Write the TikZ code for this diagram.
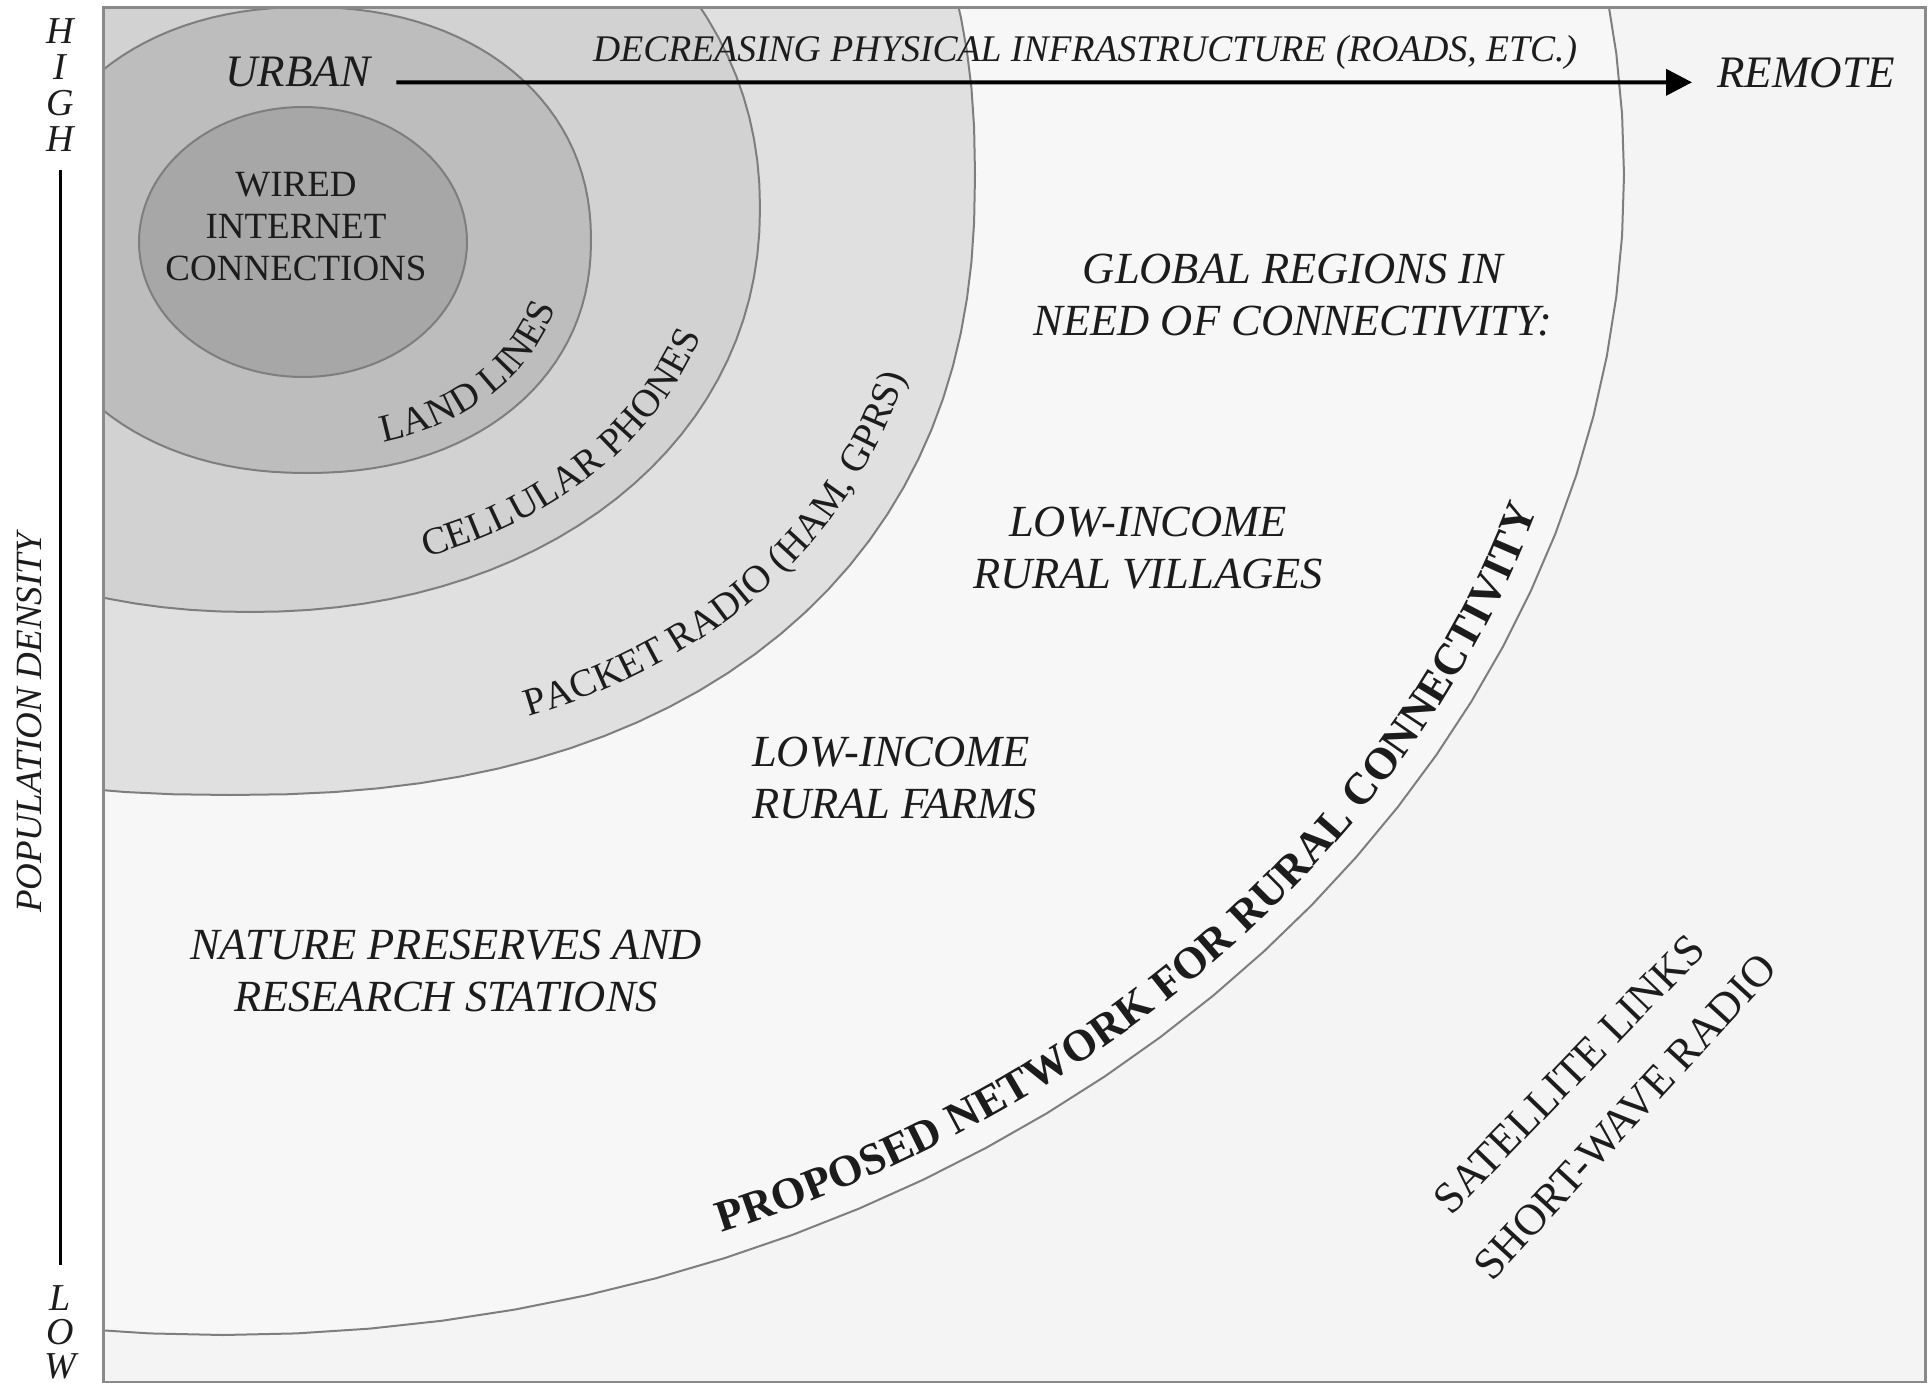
\documentclass[tikz,border=0pt]{standalone}
\usepackage{fontspec}
\setmainfont{Liberation Serif}
\usetikzlibrary{arrows.meta,decorations.text}
\definecolor{cbg}{HTML}{F4F4F4}
\definecolor{couter}{HTML}{F7F7F7}
\definecolor{cpacket}{HTML}{E0E0E0}
\definecolor{ccell}{HTML}{D2D2D2}
\definecolor{cland}{HTML}{BDBDBD}
\definecolor{cwired}{HTML}{A7A7A7}
\definecolor{cline}{HTML}{7E7E7E}
\definecolor{cframe}{HTML}{8A8A8A}
\definecolor{ctext}{HTML}{1C1C1C}
\newcommand\fsz[2]{\fontsize{#1}{#2}\selectfont}
\tikzset{
  declare function={spow(\xa,\xb)=\xa*(abs(\xa)+0.0001)^(\xb-1);},
  spath/.style n args={7}{insert path={plot[domain=#6:#7,samples=121,variable=\t]
     ({#1+#3*spow(cos(\t),2/#5)},{#2+#4*spow(sin(\t),2/#5)})}},
  region/.style={draw=cline, line width=2pt},
  lbl/.style={inner sep=0pt, text=ctext},
  ital/.style={lbl, font=\fsz{44.5}{52}\itshape, align=center},
  ringtext/.style={decorate, decoration={text along path, text align=center,
     text={|\color{ctext}\fsz{39}{39}|#1}}},
}
\begin{document}
\begin{tikzpicture}[x=1pt,y=-1pt]
\useasboundingbox (0,0) rectangle (1930,1383);
\fill[white] (0,0) rectangle (1930,1383);

% regions
\begin{scope}
  \clip (103,8) rectangle (1925,1382);
  \fill[cbg] (103,8) rectangle (1925,1382);
  \filldraw[region, fill=couter, spath={223}{175}{1401}{1160}{2}{0}{360}] -- cycle;
  \filldraw[region, fill=cpacket, spath={230}{175}{745}{620}{2.3}{0}{360}] -- cycle;
  \filldraw[region, fill=ccell, spath={250}{208}{510}{404}{2.1}{0}{360}] -- cycle;
  \filldraw[region, fill=cland, spath={307}{240}{284}{233}{2.15}{0}{360}] -- cycle;
  \filldraw[region, fill=cwired, spath={303}{242}{164}{135}{2}{0}{360}] -- cycle;
\end{scope}
\draw[cframe, line width=3pt] (103,8) rectangle (1925,1382);

% left axis
\node[lbl, font=\fsz{38}{36}\itshape, align=center, anchor=north] (high) at (60,18) {H\\I\\G\\H};
\node[lbl, font=\fsz{38}{34}\itshape, align=center, anchor=north] (low) at (60,1285) {L\\O\\W};
\draw[black, line width=3pt, shorten <=19pt, shorten >=20pt] (high.south) -- (low.north);
\node[lbl, rotate=90, font=\fsz{37}{37}\itshape] (popd) at (29.5,723) {POPULATION DENSITY};

% top axis
\node[lbl, anchor=base west, font=\fsz{45}{45}\itshape] (urban) at (225,87) {URBAN};
\node[lbl, anchor=base west, font=\fsz{45}{45}\itshape] (remote) at (1717,88) {REMOTE};
\node[lbl, anchor=base west, font=\fsz{37.6}{38}\itshape] (decr) at (593,62) {DECREASING PHYSICAL INFRASTRUCTURE (ROADS, ETC.)};
\draw[black, line width=4pt, -{Triangle[length=26pt,width=26pt]}, shorten <=26pt, shorten >=25pt]
  ([yshift=-10pt]urban.east) -- ([yshift=-9pt]remote.west);

% inner labels
\node[lbl, font=\fsz{37}{42}, align=center, anchor=north] (wired) at (296,172) {WIRED\\INTERNET\\CONNECTIONS};
\path[ringtext={LAND LINES}, spath={307}{240}{260}{209}{2.15}{82}{8}];
\path[ringtext={CELLULAR PHONES}, spath={250}{208}{476}{372}{2.1}{80}{6}];
\path[ringtext={PACKET RADIO (HAM, GPRS)}, spath={230}{175}{703}{578}{2.3}{79}{5}];
\path[decorate, decoration={text along path, text align=center,
     text={|\color{ctext}\fsz{44.5}{44.5}\bfseries|PROPOSED NETWORK FOR RURAL CONNECTIVITY}},
     spath={223}{175}{1376}{1135}{2}{79}{5}];

% region labels
\node[ital, anchor=north] (global) at (1293,254) {GLOBAL REGIONS IN\\NEED OF CONNECTIVITY:};
\node[ital, anchor=north] (villages) at (1148,507) {LOW-INCOME\\RURAL VILLAGES};
\node[ital, align=left, anchor=north west] (farms) at (752,737) {LOW-INCOME\\RURAL FARMS};
\node[ital, anchor=north] (nature) at (446,930) {NATURE PRESERVES AND\\RESEARCH STATIONS};

% remote technologies
\node[lbl, rotate=46, font=\fsz{44}{44}] (sat) at (1569,1074) {SATELLITE LINKS};
\node[lbl, rotate=47.5, font=\fsz{44}{44}] (swr) at (1625,1117) {SHORT-WAVE RADIO};
\end{tikzpicture}
\end{document}
